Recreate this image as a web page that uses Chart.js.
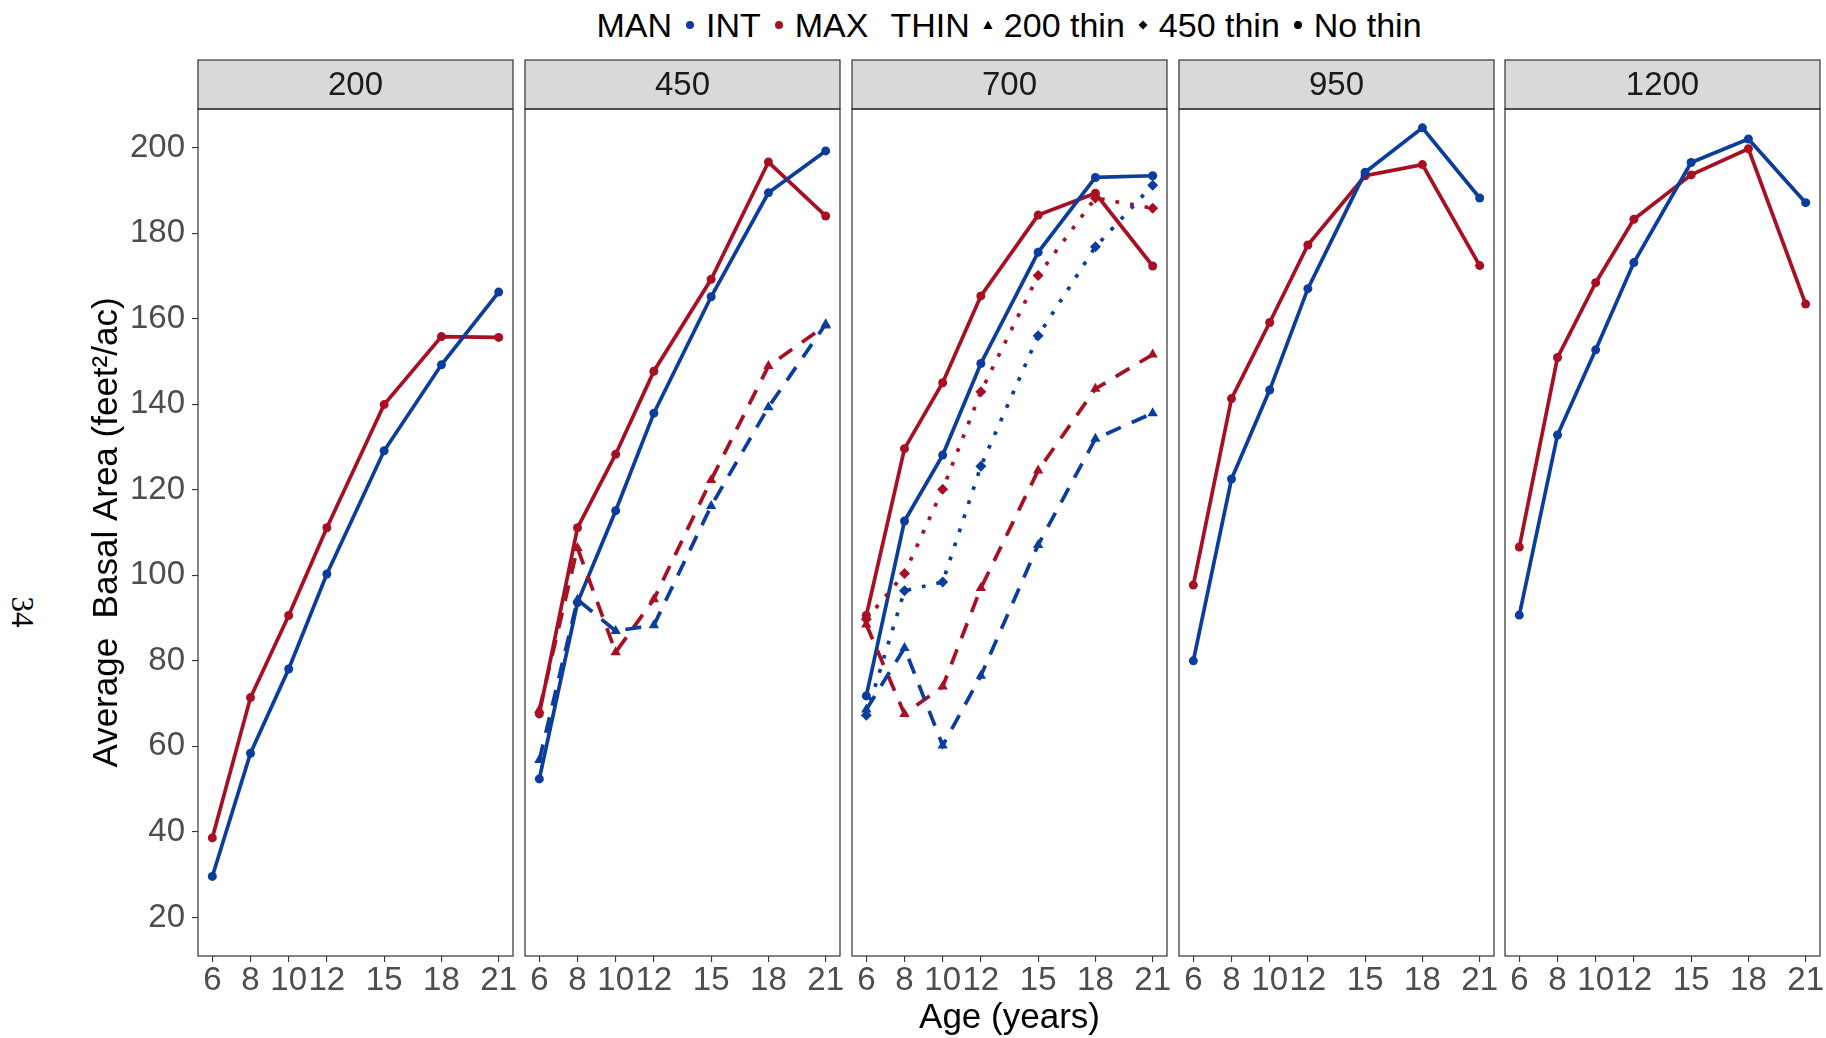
<!DOCTYPE html>
<html>
<head>
<meta charset="utf-8">
<script src="https://cdn.jsdelivr.net/npm/chart.js@4.4.0/dist/chart.umd.min.js"></script>
<style>
  html, body { margin: 0; padding: 0; background: #fff; }
  body { width: 1826px; height: 1038px; position: relative; overflow: hidden; font-family: "Liberation Sans", Arial, sans-serif; }
  canvas { position: absolute; top: 0; }
  #legend { position: absolute; top: 4px; left: 198px; width: 1622px; height: 42px; display: flex; justify-content: center; align-items: center; font-size: 34px; color: #000; white-space: pre; }
  #legend svg { margin: 0 11px 0 13px; }
  #legend .gap { width: 22px; }
  #page { position: absolute; left: 22px; top: 612px; transform: translate(-50%, -50%) rotate(90deg); font-family: "Liberation Serif", serif; font-size: 31px; color: #000; }
</style>
</head>
<body>
<div id="legend">
  <span>MAN</span><svg width="10" height="10"><circle cx="5" cy="5" r="4" fill="#0B3D9E"/></svg><span>INT</span><svg width="10" height="10"><circle cx="5" cy="5" r="4" fill="#A80F22"/></svg><span>MAX</span><span class="gap"></span><span>THIN</span><svg width="10" height="10"><polygon points="5,0.5 9.6,9 0.4,9" fill="#000"/></svg><span>200 thin</span><svg width="10" height="10"><polygon points="5,0.5 9.5,5 5,9.5 0.5,5" fill="#000"/></svg><span>450 thin</span><svg width="10" height="10"><circle cx="5" cy="5" r="4" fill="#000"/></svg><span>No thin</span>
</div>
<div id="page">34</div>
<script>
// Basal area by age, one panel per planting density
const ages = [6, 8, 10, 12, 15, 18, 21];
const panelNames = ['200', '450', '700', '950', '1200'];
const yTicks = [20, 40, 60, 80, 100, 120, 140, 160, 180, 200];

// 200
const int200 = [29.6, 58.4, 78.1, 100.3, 129.1, 149.2, 166.2];
const max200 = [38.6, 71.4, 90.6, 111.1, 139.9, 155.8, 155.6];

// 450
const int450 = [52.4, 93.6, 115.1, 137.9, 165.1, 189.4, 199.2];
const max450 = [67.6, 111.1, 128.3, 147.7, 169.2, 196.6, 184.0];
const int450t200 = [56.8, 94.3, 87.0, 88.3, 116.2, 139.3, 158.7];
const max450t200 = [68.5, 106.4, 82.0, 94.4, 122.3, 148.9, 158.4];

// 700
const int700 = [71.8, 112.7, 128.1, 149.5, 175.5, 193.0, 193.4];
const max700 = [90.6, 129.6, 145.0, 165.3, 184.2, 189.3, 172.3];
const int700t450 = [67.3, 96.4, 98.4, 125.5, 156.0, 176.8, 191.2];
const max700t450 = [89.7, 100.4, 120.1, 142.9, 170.1, 188.2, 185.8];
const int700t200 = [68.6, 83.0, 60.2, 76.5, 107.1, 131.9, 137.9];
const max700t200 = [88.5, 67.6, 74.0, 97.0, 124.5, 143.6, 151.6];

// 950
const int950 = [80.0, 122.5, 143.3, 167.0, 194.2, 204.6, 188.2];
const max950 = [97.7, 141.3, 159.1, 177.2, 193.4, 196.0, 172.4];

// 1200
const int1200 = [90.7, 132.8, 152.7, 173.1, 196.5, 202.0, 187.1];
const max1200 = [106.6, 150.9, 168.4, 183.2, 193.6, 199.7, 163.4];

const BLUE = '#0B3D9E';
const RED = '#A80F22';

const thinStyles = {
  none: { dash: [], point: 'circle', r: 4.5 },
  t200: { dash: [16, 12], point: 'triangle', r: 6 },
  t450: { dash: [3.8, 11], point: 'rectRot', r: 5.5 }
};

function line(values, color, thin) {
  const s = thinStyles[thin];
  return {
    data: ages.map((a, k) => ({ x: a, y: values[k] })),
    borderColor: color,
    backgroundColor: color,
    borderWidth: 3.7,
    borderDash: s.dash,
    borderCapStyle: 'butt',
    pointStyle: s.point,
    pointRadius: s.r,
    pointBorderWidth: 0,
    tension: 0,
    fill: false
  };
}

const panelSets = [
  [line(int200, BLUE, 'none'), line(max200, RED, 'none')],
  [line(int450t200, BLUE, 't200'), line(max450t200, RED, 't200'),
   line(int450, BLUE, 'none'), line(max450, RED, 'none')],
  [line(int700t200, BLUE, 't200'), line(max700t200, RED, 't200'),
   line(int700t450, BLUE, 't450'), line(max700t450, RED, 't450'),
   line(int700, BLUE, 'none'), line(max700, RED, 'none')],
  [line(int950, BLUE, 'none'), line(max950, RED, 'none')],
  [line(int1200, BLUE, 'none'), line(max1200, RED, 'none')]
];

const STRIP_TOP = 60;
const panelLefts = [198, 525, 852, 1179, 1505];
const panelW = 315;

// gray strip on top and a frame round each panel
const panelFrame = {
  id: 'panelFrame',
  beforeDraw(chart, args, opts) {
    const { ctx, chartArea: a } = chart;
    ctx.save();
    ctx.fillStyle = '#D9D9D9';
    ctx.fillRect(a.left, STRIP_TOP, a.right - a.left, a.top - STRIP_TOP);
    ctx.strokeStyle = '#333';
    ctx.lineWidth = 1.2;
    ctx.strokeRect(a.left, STRIP_TOP, a.right - a.left, a.top - STRIP_TOP);
    ctx.fillStyle = '#1A1A1A';
    ctx.font = '33px "Liberation Sans"';
    ctx.textAlign = 'center';
    ctx.textBaseline = 'middle';
    ctx.fillText(opts.label, (a.left + a.right) / 2, (STRIP_TOP + a.top) / 2 + 1);
    ctx.restore();
  },
  afterDraw(chart) {
    const { ctx, chartArea: a } = chart;
    ctx.save();
    ctx.strokeStyle = '#333';
    ctx.lineWidth = 1.2;
    ctx.strokeRect(a.left, a.top, a.right - a.left, a.bottom - a.top);
    ctx.restore();
  }
};

panelNames.forEach((name, i) => {
  const first = i === 0;
  const canvas = document.createElement('canvas');
  const left = first ? 0 : panelLefts[i] - 20;
  const width = first ? panelLefts[0] + panelW + 20 : panelW + 40;
  canvas.width = width;
  canvas.height = 1038;
  canvas.style.left = left + 'px';
  document.body.appendChild(canvas);

  new Chart(canvas, {
    type: 'line',
    data: { datasets: panelSets[i] },
    options: {
      responsive: false,
      animation: false,
      events: [],
      layout: { autoPadding: false, padding: { left: first ? 0 : 20, right: 20, top: 109, bottom: 0 } },
      plugins: {
        legend: { display: false },
        tooltip: { enabled: false },
        panelFrame: { label: name }
      },
      scales: {
        x: {
          type: 'linear',
          min: 5.25,
          max: 21.75,
          afterBuildTicks: s => { s.ticks = ages.map(v => ({ value: v })); },
          afterFit: s => { s.height = 82; },
          grid: { drawOnChartArea: false, drawTicks: true, tickLength: 6, color: '#333', lineWidth: 1.1 },
          border: { display: false },
          ticks: {
            color: '#4D4D4D',
            font: { family: 'Liberation Sans', size: 33, lineHeight: 1 },
            padding: 2,
            autoSkip: false,
            maxRotation: 0,
            minRotation: 0
          },
          title: {
            display: i === 2,
            text: 'Age (years)',
            color: '#000',
            font: { family: 'Liberation Sans', size: 35, lineHeight: 1.15 },
            padding: { top: 0, bottom: 0 }
          }
        },
        y: {
          type: 'linear',
          display: first,
          min: 11,
          max: 209,
          afterBuildTicks: s => { s.ticks = yTicks.map(v => ({ value: v })); },
          afterFit: s => { s.width = first ? panelLefts[0] : 0; },
          grid: { drawOnChartArea: false, drawTicks: true, tickLength: 6, color: '#333', lineWidth: 1.1 },
          border: { display: false },
          ticks: {
            color: '#4D4D4D',
            font: { family: 'Liberation Sans', size: 33, lineHeight: 1 },
            padding: 7
          },
          title: {
            display: true,
            text: 'Average  Basal Area (feet\u00B2/ac)',
            color: '#000',
            font: { family: 'Liberation Sans', size: 35, lineHeight: 1.15 },
            padding: { top: 87, bottom: 0 }
          }
        }
      }
    },
    plugins: [panelFrame]
  });
});
</script>
</body>
</html>
